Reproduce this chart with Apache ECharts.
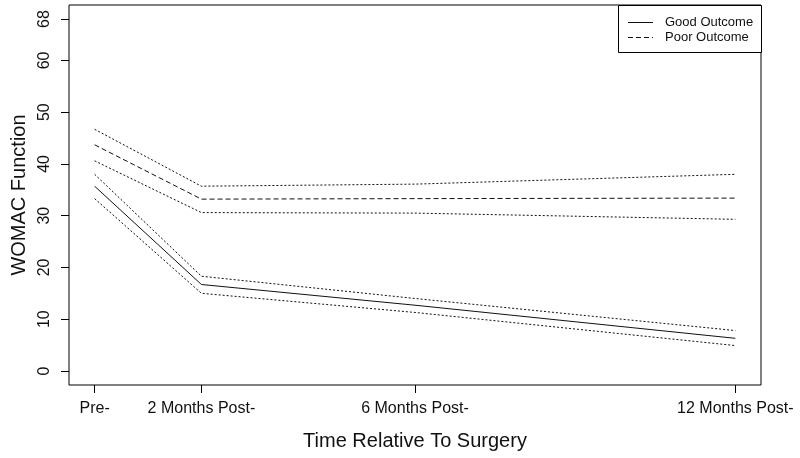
<!DOCTYPE html>
<html>
<head>
<meta charset="utf-8">
<script src="https://cdn.jsdelivr.net/npm/echarts@6/dist/echarts.min.js"></script>
<style>html,body{margin:0;padding:0;background:#fff}#c{width:800px;height:458px}</style>
</head>
<body>
<div id="c"></div>
<script>
var timePoints = [0, 2, 6, 12];
var timeLabels = ['Pre-', '2 Months Post-', '6 Months Post-', '12 Months Post-'];
var yTicks = [0, 10, 20, 30, 40, 50, 60, 68];
var legendNames = ['Good Outcome', 'Poor Outcome'];
var goodMean  = [35.7, 16.7, 12.7, 6.3];
var goodUpper = [38.0, 18.3, 14.0, 7.8];
var goodLower = [33.3, 15.0, 11.3, 4.9];
var poorMean  = [43.7, 33.2, 33.3, 33.4];
var poorUpper = [46.7, 35.7, 36.1, 38.0];
var poorLower = [40.6, 30.6, 30.5, 29.3];

function pts(vals) { return timePoints.map(function (t, i) { return [t, vals[i]]; }); }
var FONT = '"Liberation Sans", Arial, sans-serif';
var INK = '#111';
function line(name, vals, type) {
  return {
    name: name, type: 'line', data: pts(vals), symbol: 'none', silent: true,
    lineStyle: { color: INK, width: 1, type: type },
    itemStyle: { color: INK }
  };
}
var chart = echarts.init(document.getElementById('c'));
chart.setOption({
  animation: false,
  backgroundColor: '#fff',
  grid: { left: 69, right: 39, top: 5, bottom: 73, show: true, borderColor: '#000', borderWidth: 1, backgroundColor: 'transparent' },
  graphic: [
    { type: 'rect', left: 618, top: 5, shape: { width: 143, height: 47 }, style: { fill: '#fff', stroke: '#000', lineWidth: 1 }, z: 10 },
    { type: 'line', shape: { x1: 628, y1: 22.5, x2: 653, y2: 22.5 }, style: { stroke: INK, lineWidth: 1 }, z: 11 },
    { type: 'line', shape: { x1: 628, y1: 37.5, x2: 653, y2: 37.5 }, style: { stroke: INK, lineWidth: 1, lineDash: [5, 3] }, z: 11 },
    { type: 'text', x: 665, y: 22, style: { text: legendNames[0], font: '13px ' + FONT, fill: INK, verticalAlign: 'middle' }, z: 11 },
    { type: 'text', x: 665, y: 37, style: { text: legendNames[1], font: '13px ' + FONT, fill: INK, verticalAlign: 'middle' }, z: 11 }
  ],
  xAxis: {
    type: 'value', min: -0.48, max: 12.48,
    splitLine: { show: false },
    axisLine: { show: false, onZero: false },
    axisTick: { show: true, length: 8, lineStyle: { color: '#000' }, customValues: timePoints },
    axisLabel: {
      customValues: timePoints, margin: 16, color: INK, fontFamily: FONT, fontSize: 16,
      formatter: function (v) { var i = timePoints.indexOf(v); return i >= 0 ? timeLabels[i] : ''; }
    },
    name: 'Time Relative To Surgery', nameLocation: 'middle', nameGap: 46,
    nameTextStyle: { fontFamily: FONT, fontSize: 20, color: INK }
  },
  yAxis: {
    type: 'value', min: -2.72, max: 70.72,
    splitLine: { show: false },
    axisLine: { show: false, onZero: false },
    axisTick: { show: true, length: 8, lineStyle: { color: '#000' }, customValues: yTicks },
    axisLabel: {
      customValues: yTicks, rotate: 90, margin: 16, color: INK, fontFamily: FONT, fontSize: 16
    },
    name: 'WOMAC Function', nameLocation: 'middle', nameGap: 40,
    nameTextStyle: { fontFamily: FONT, fontSize: 20, color: INK }
  },
  series: [
    line('Good Outcome', goodMean, 'solid'),
    line('Good Upper', goodUpper, [2, 2]),
    line('Good Lower', goodLower, [2, 2]),
    line('Poor Outcome', poorMean, [5, 3]),
    line('Poor Upper', poorUpper, [2, 2]),
    line('Poor Lower', poorLower, [2, 2])
  ]
});
</script>
</body>
</html>
